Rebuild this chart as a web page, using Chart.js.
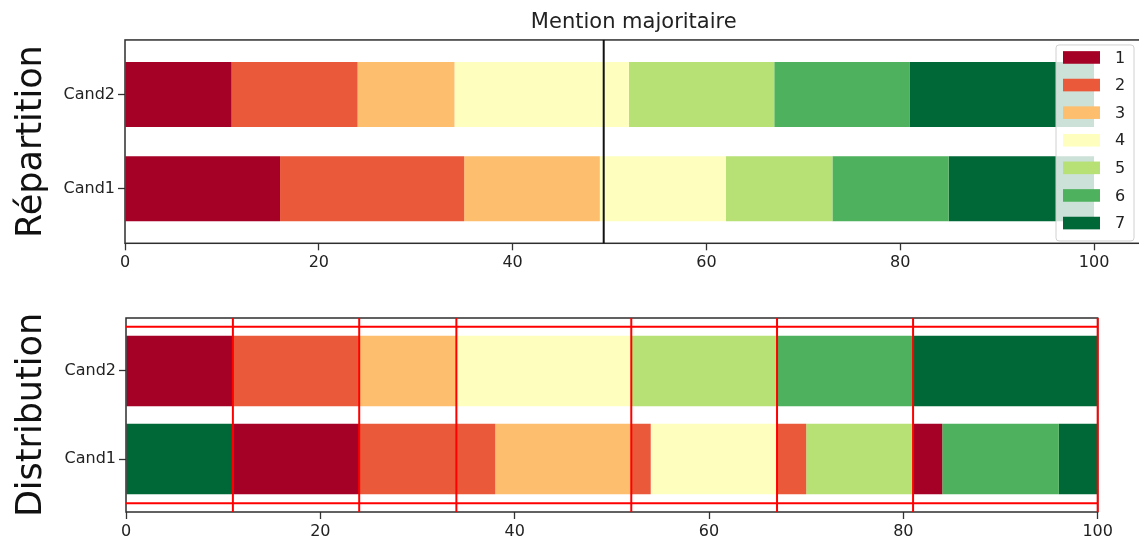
<!DOCTYPE html>
<html>
<head>
<meta charset="utf-8">
<script src="https://cdn.jsdelivr.net/npm/chart.js@4.4.0/dist/chart.umd.min.js"></script>
<style>
  html, body { margin: 0; padding: 0; background: #fff; overflow: hidden; }
  #wrap { position: relative; width: 1139px; height: 540px; overflow: hidden; }
  #top { position: absolute; left: 0; top: 0; }
  #bottom { position: absolute; left: 0; top: 280px; }
</style>
</head>
<body>
<div id="wrap">
  <canvas id="top" width="1160" height="280"></canvas>
  <canvas id="bottom" width="1160" height="260"></canvas>
</div>
<script>
const candidates = ['Cand1', 'Cand2'];
const grades = ['1', '2', '3', '4', '5', '6', '7'];
const gradeColors = ['#a50026', '#ea593a', '#fdbe6e', '#feffbe', '#b7e075', '#4db15d', '#006837'];

// Répartition : part de chaque mention, dans l'ordre des mentions
const cand1Shares = [16, 19, 14, 13, 11, 12, 15];
const cand2Shares = [11, 13, 10, 18, 15, 14, 19];

// Distribution : Cand1 redécoupé sur les intervalles de Cand2
const distCand1Grades = [7, 1, 2, 3, 2, 4, 2, 5, 1, 6, 7];
const distCand1Shares = [11, 13, 14, 14, 2, 13, 3, 11, 3, 12, 4];

const xTicks = [0, 20, 40, 60, 80, 100];
const medianLine = 49.4;
const redRows = [-0.5, 1.5];

Chart.defaults.font.family = "'DejaVu Sans', sans-serif";
Chart.defaults.color = '#222';

// segments flottants [début, fin] d'une ligne
function segments(gradeList, shares, row) {
  let start = 0;
  return shares.map((s, i) => {
    const seg = { grade: gradeList[i], y: row, x: [start, start + s] };
    start += s;
    return seg;
  });
}

function gradeDatasets(rows) {
  const all = rows.flat();
  return grades.map((g, i) => ({
    label: g,
    backgroundColor: gradeColors[i],
    data: all.filter(s => s.grade === i + 1).map(s => ({ x: s.x, y: s.y })),
  }));
}

function cumulative(shares) {
  let acc = 0;
  return shares.map(s => (acc += s));
}

const frame = {
  id: 'frame',
  afterDatasetsDraw(chart) {
    const { ctx, chartArea: a } = chart;
    ctx.save();
    ctx.strokeStyle = '#2e2e2e';
    ctx.lineWidth = 1.5;
    ctx.strokeRect(a.left, a.top, a.width, a.height);
    ctx.restore();
  }
};

const median = {
  id: 'median',
  afterDatasetsDraw(chart) {
    const { ctx, chartArea: a, scales } = chart;
    const px = scales.x.getPixelForValue(medianLine);
    ctx.save();
    ctx.strokeStyle = '#111';
    ctx.lineWidth = 2;
    ctx.beginPath();
    ctx.moveTo(px, a.top);
    ctx.lineTo(px, a.bottom);
    ctx.stroke();
    ctx.restore();
  }
};

const redLines = {
  id: 'redLines',
  afterDatasetsDraw(chart) {
    const { ctx, chartArea: a, scales } = chart;
    ctx.save();
    ctx.strokeStyle = '#ff0000';
    ctx.lineWidth = 2;
    redRows.forEach(r => {
      const py = scales.y.getPixelForValue(r);
      ctx.beginPath();
      ctx.moveTo(scales.x.getPixelForValue(0), py);
      ctx.lineTo(scales.x.getPixelForValue(100), py);
      ctx.stroke();
    });
    cumulative(cand2Shares).forEach(v => {
      const px = scales.x.getPixelForValue(v);
      ctx.beginPath();
      ctx.moveTo(px, a.top);
      ctx.lineTo(px, a.bottom);
      ctx.stroke();
    });
    ctx.restore();
  }
};

const legendBox = {
  id: 'legendBox',
  afterDraw(chart) {
    const { ctx, chartArea: a } = chart;
    const w = 78, h = 196;
    const left = a.right - 8.5 - w, top = a.top + 5;
    ctx.save();
    ctx.fillStyle = 'rgba(255,255,255,0.8)';
    ctx.strokeStyle = '#d0d0d0';
    ctx.lineWidth = 1;
    ctx.beginPath();
    ctx.roundRect(left, top, w, h, 3);
    ctx.fill();
    ctx.stroke();
    ctx.font = "16px 'DejaVu Sans'";
    ctx.textBaseline = 'middle';
    chart.data.datasets.forEach((ds, i) => {
      const cy = top + 12.5 + i * 27.6;
      ctx.fillStyle = ds.backgroundColor;
      ctx.fillRect(left + 7, cy - 6.3, 37, 12.6);
      ctx.fillStyle = '#222';
      ctx.fillText(ds.label, left + 59, cy + 1);
    });
    ctx.restore();
  }
};

function xScale(max, height) {
  return {
    type: 'linear', min: 0, max: max,
    afterBuildTicks: s => { s.ticks = xTicks.map(v => ({ value: v })); },
    afterFit: s => { s.height = height; },
    grid: { drawOnChartArea: false, tickLength: 7, tickColor: '#333', tickWidth: 1.3 },
    border: { display: false },
    ticks: { font: { size: 16 }, color: '#222', padding: 3, maxRotation: 0, autoSkip: false },
  };
}

function yScale(min, max, width, title) {
  return {
    type: 'linear', min: min, max: max, offset: false,
    afterBuildTicks: s => { s.ticks = candidates.map((c, i) => ({ value: i })); },
    afterFit: s => { s.width = width; },
    grid: { offset: false, drawOnChartArea: false, tickLength: 7, tickColor: '#333', tickWidth: 1.3 },
    border: { display: false },
    ticks: { font: { size: 16 }, color: '#222', padding: 3, callback: v => candidates[v] },
    title: { display: true, text: title, font: { size: 35 }, color: '#111', padding: { top: 11, bottom: 0 } },
  };
}

new Chart('top', {
  type: 'bar',
  data: {
    datasets: gradeDatasets([
      segments([1, 2, 3, 4, 5, 6, 7], cand1Shares, 0),
      segments([1, 2, 3, 4, 5, 6, 7], cand2Shares, 1),
    ]),
  },
  options: {
    responsive: false,
    animation: false,
    indexAxis: 'y',
    layout: { padding: { left: 0, right: 17.5, top: 0, bottom: 0 } },
    datasets: { bar: { grouped: false, categoryPercentage: 1, barPercentage: 0.69, borderWidth: 0 } },
    plugins: {
      legend: { display: false },
      tooltip: { enabled: false },
      title: {
        display: true, text: 'Mention majoritaire', fullSize: false,
        font: { size: 21, weight: 'normal', lineHeight: 1.15 }, color: '#222',
        padding: { top: 10, bottom: 5.8 },
      },
    },
    scales: { x: xScale(105, 36.7), y: yScale(-0.58, 1.58, 125, 'Répartition') },
  },
  plugins: [frame, median, legendBox],
});

new Chart('bottom', {
  type: 'bar',
  data: {
    datasets: gradeDatasets([
      segments(distCand1Grades, distCand1Shares, 0),
      segments([1, 2, 3, 4, 5, 6, 7], cand2Shares, 1),
    ]),
  },
  options: {
    responsive: false,
    animation: false,
    indexAxis: 'y',
    layout: { padding: { left: 0, right: 62.3, top: 38, bottom: 0 } },
    datasets: { bar: { grouped: false, categoryPercentage: 1, barPercentage: 0.8, borderWidth: 0 } },
    plugins: { legend: { display: false }, tooltip: { enabled: false } },
    scales: { x: xScale(100, 28), y: yScale(-0.6, 1.6, 126, 'Distribution') },
  },
  plugins: [frame, redLines],
});
</script>
</body>
</html>
